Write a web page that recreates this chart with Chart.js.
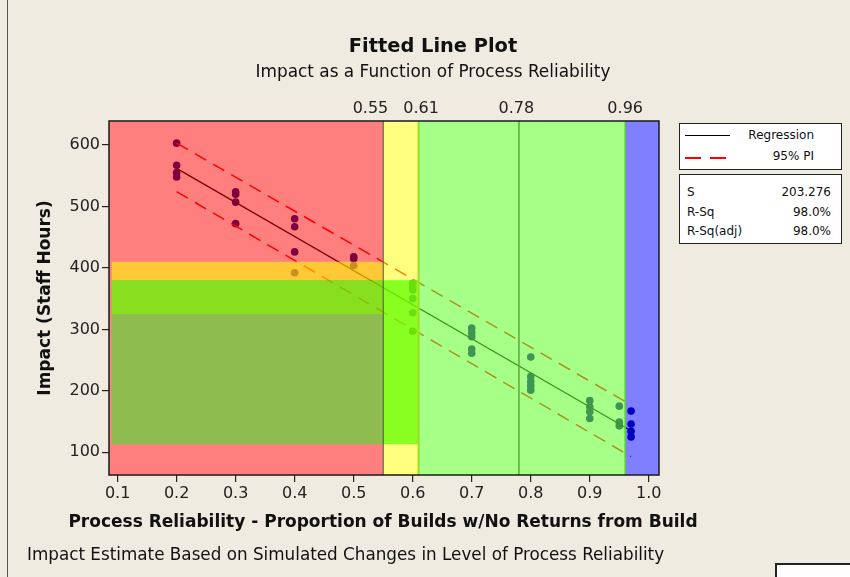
<!DOCTYPE html>
<html>
<head>
<meta charset="utf-8">
<script src="https://cdn.jsdelivr.net/npm/chart.js@4.4.1/dist/chart.umd.min.js"></script>
<style>
  html,body{margin:0;padding:0;}
  body{width:850px;height:577px;overflow:hidden;background:#efebe1;position:relative;font-family:"DejaVu Sans",Verdana,sans-serif;color:#111;}
  #c{position:absolute;left:0;top:0;}
  .abs{position:absolute;white-space:nowrap;}
  #frameL{left:7px;top:0;width:1px;height:577px;background:#555;}
  #title{left:0;width:866px;top:34px;text-align:center;font-weight:bold;font-size:19.4px;}
  #sub{left:0;width:866px;top:61px;text-align:center;font-size:16.9px;}
  #xtitle{left:0;width:766px;top:510px;line-height:22px;text-align:center;font-weight:bold;font-size:17px;}
  #note{left:27px;top:544px;font-size:16.8px;}
  .box{position:absolute;border:1.5px solid #222;background:#fff;}
  #leg{left:679px;top:123px;width:161px;height:45px;}
  #stats{left:679px;top:174px;width:161px;height:68px;font-size:12px;}
  .lt{position:absolute;font-size:12px;}
  #cornerBox{left:775px;top:563px;width:90px;height:30px;border:2px solid #222;background:#fff;}
</style>
</head>
<body>
<canvas id="c" width="850" height="577"></canvas>
<div id="frameL" class="abs"></div>
<div id="title" class="abs">Fitted Line Plot</div>
<div id="sub" class="abs">Impact as a Function of Process Reliability</div>
<div id="xtitle" class="abs">Process Reliability - Proportion of Builds w/No Returns from Build</div>
<div id="leg" class="box">
  <div class="abs" style="left:5px;top:11px;width:45px;height:1px;background:#000;"></div>
  <div class="lt" style="right:27px;top:4px;">Regression</div>
  <div class="abs" style="left:5px;top:33px;width:42px;height:1.5px;background:repeating-linear-gradient(to right,#ff0000 0 16px,transparent 16px 25px);"></div>
  <div class="lt" style="right:27px;top:25px;">95% PI</div>
</div>
<div id="stats" class="box">
  <div class="lt" style="left:7px;top:10px;">S</div>
  <div class="lt" style="right:10px;top:10px;">203.276</div>
  <div class="lt" style="left:7px;top:30px;">R-Sq</div>
  <div class="lt" style="right:10px;top:30px;">98.0%</div>
  <div class="lt" style="left:7px;top:49px;">R-Sq(adj)</div>
  <div class="lt" style="right:10px;top:49px;">98.0%</div>
</div>
<div id="note" class="abs">Impact Estimate Based on Simulated Changes in Level of Process Reliability</div>
<div id="cornerBox" class="abs"></div>
<script>
// ---- data ----
const xTicks = [0.1, 0.2, 0.3, 0.4, 0.5, 0.6, 0.7, 0.8, 0.9, 1.0];
const yTicks = [100, 200, 300, 400, 500, 600];
const topTicks = [0.55, 0.61, 0.78, 0.96];
const topTickLabels = ['0.55     ', ' 0.61', '0.78 ', '0.96'];
const levels = [0.2, 0.3, 0.4, 0.5, 0.6, 0.7, 0.8, 0.9, 0.95, 0.97];
const impacts = [
  [603, 567, 555, 548],
  [524, 520, 507, 472],
  [480, 467, 426, 392],
  [418, 415, 404],
  [375, 369, 364, 350, 327, 297],
  [302, 295, 288, 268, 261],
  [255, 223, 215, 208, 201],
  [184, 174, 166, 155],
  [175, 149, 143],
  [167, 146, 134, 125]
];
const fitX = [0.2, 0.97];
const fitY = [562, 135];
const piUpper = [603, 177];
const piLower = [524, 93];
const zoneEdges = [0.55, 0.61, 0.96];
const orangeBand = [380, 410];
const greenBand = [113, 380];
const oliveBand = [113, 325];

// ---- build ----
const points = [];
levels.forEach((x, i) => impacts[i].forEach(y => points.push({x, y})));
const fitData = fitX.map((x, i) => ({x, y: fitY[i]}));
const upData = fitX.map((x, i) => ({x, y: piUpper[i]}));
const loData = fitX.map((x, i) => ({x, y: piLower[i]}));

const overlay = {
  id: 'overlay',
  beforeDraw(chart) {
    const {ctx, chartArea: a} = chart;
    ctx.save();
    ctx.fillStyle = '#ffffff';
    ctx.fillRect(a.left, a.top, a.right - a.left, a.bottom - a.top);
    ctx.restore();
  },
  afterDatasetsDraw(chart) {
    const {ctx, chartArea: a, scales} = chart;
    const xs = scales.x, ys = scales.y;
    const px = v => xs.getPixelForValue(v), py = v => ys.getPixelForValue(v);
    ctx.save();
    ctx.beginPath();
    ctx.rect(a.left, a.top, a.right - a.left, a.bottom - a.top);
    ctx.clip();
    const edges = [xs.min, ...zoneEdges, xs.max];
    const cols = ['rgba(255,0,0,0.5)', 'rgba(255,255,0,0.5)', 'rgba(103,255,49,0.59)', 'rgba(0,0,255,0.5)'];
    for (let i = 0; i < cols.length; i++) {
      ctx.fillStyle = cols[i];
      ctx.fillRect(px(edges[i]), a.top, px(edges[i + 1]) - px(edges[i]), a.bottom - a.top);
    }
    const band = (x0, x1, y0, y1, c) => {
      ctx.fillStyle = c;
      ctx.fillRect(px(x0), py(y1), px(x1) - px(x0), py(y0) - py(y1));
    };
    band(0.09, 0.55, orangeBand[0], orangeBand[1], 'rgba(255,255,0,0.57)');
    band(0.09, 0.61, greenBand[0], greenBand[1], 'rgba(96,255,0,0.75)');
    band(0.09, 0.55, oliveBand[0], oliveBand[1], 'rgba(160,105,194,0.29)');
    const vline = (v, c, w) => {
      ctx.strokeStyle = c; ctx.lineWidth = w;
      ctx.beginPath(); ctx.moveTo(px(v), a.top); ctx.lineTo(px(v), a.bottom); ctx.stroke();
    };
    vline(topTicks[0], '#505050', 1);
    vline(topTicks[1], '#9ae020', 2);
    vline(topTicks[2], '#5aa83a', 1.5);
    vline(topTicks[3], '#5cc83c', 1.5);
    ctx.restore();
    ctx.save();
    ctx.strokeStyle = '#1a1a1a'; ctx.lineWidth = 1.5;
    ctx.strokeRect(a.left, a.top, a.right - a.left, a.bottom - a.top);
    ctx.restore();
  }
};

const tickFont = {family: 'DejaVu Sans', size: 16};
new Chart(document.getElementById('c'), {
  type: 'scatter',
  data: {
    datasets: [
      {type: 'line', data: fitData, borderColor: '#000', borderWidth: 1.3, pointRadius: 0, fill: false},
      {type: 'line', data: upData, borderColor: '#ff0000', borderWidth: 1.5, borderDash: [13, 8], pointRadius: 0, fill: false},
      {type: 'line', data: loData, borderColor: '#ff0000', borderWidth: 1.5, borderDash: [13, 8], pointRadius: 0, fill: false},
      {data: points, backgroundColor: '#000080', borderWidth: 0, pointRadius: 3.8}
    ]
  },
  options: {
    responsive: false,
    animation: false,
    devicePixelRatio: 1,
    layout: {padding: {left: 30, right: 191, top: 90, bottom: 46}},
    plugins: {legend: {display: false}, tooltip: {enabled: false}},
    scales: {
      x: {
        type: 'linear', position: 'bottom', min: 0.0854, max: 1.0173,
        afterBuildTicks: s => { s.ticks = xTicks.map(v => ({value: v})); },
        afterFit: s => { s.height = 56; },
        ticks: {callback: v => v.toFixed(1), font: tickFont, color: '#222', padding: 2, maxRotation: 0, autoSkip: false},
        grid: {drawOnChartArea: false, drawTicks: true, tickLength: 7, color: '#222', lineWidth: 1.2},
        border: {display: false},
        title: {display: false}
      },
      x2: {
        type: 'linear', position: 'top', min: 0.0854, max: 1.0173,
        afterBuildTicks: s => { s.ticks = topTicks.map(v => ({value: v})); },
        afterFit: s => { s.height = 31; },
        ticks: {callback: (v, i) => topTickLabels[i], font: tickFont, color: '#222', padding: 3, maxRotation: 0, autoSkip: false},
        grid: {display: false, drawTicks: false},
        border: {display: false}
      },
      y: {
        type: 'linear', min: 63, max: 639,
        afterBuildTicks: s => { s.ticks = yTicks.map(v => ({value: v})); },
        afterFit: s => { s.width = 79; },
        ticks: {font: tickFont, color: '#222', padding: 2},
        grid: {drawOnChartArea: false, drawTicks: true, tickLength: 7, color: '#222', lineWidth: 1.2},
        border: {display: false},
        title: {display: true, text: 'Impact (Staff Hours)',
                font: {family: 'DejaVu Sans', size: 17, weight: 'bold'}, color: '#111', padding: {top: 5, bottom: 0}}
      }
    }
  },
  plugins: [overlay]
});
</script>
</body>
</html>
